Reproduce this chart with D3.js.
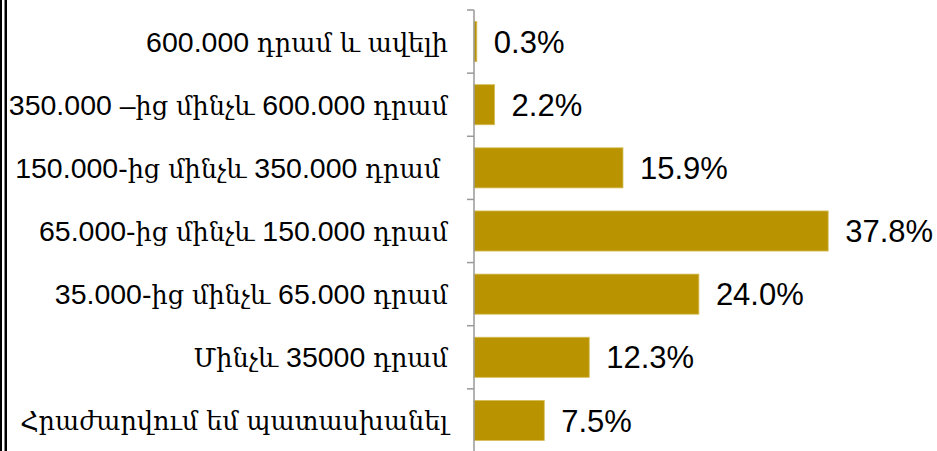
<!DOCTYPE html>
<html>
<head>
<meta charset="utf-8">
<script src="https://cdn.jsdelivr.net/npm/d3@7"></script>
<style>
  html, body { margin: 0; padding: 0; background: #fff; }
  svg { display: block; }
</style>
</head>
<body>
<svg id="chart" width="937" height="451"></svg>
<script>
// Income brackets (top to bottom) and share of respondents, %
const categories = [
  "600.000 դրամ և ավելի",
  "350.000 –ից մինչև 600.000 դրամ",
  "150.000-ից մինչև 350.000 դրամ ",
  "65.000-ից մինչև 150.000 դրամ",
  "35.000-ից մինչև 65.000 դրամ",
  "Մինչև 35000 դրամ",
  "Հրաժարվում եմ պատասխանել"
];
const values = [0.3, 2.2, 15.9, 37.8, 24.0, 12.3, 7.5];
const valueLabels = ["0.3%", "2.2%", "15.9%", "37.8%", "24.0%", "12.3%", "7.5%"];

const svg = d3.select("#chart");
const axisX = 474;

const y = d3.scaleBand()
  .domain(categories)
  .range([10, 452])
  .paddingInner(0.365)
  .paddingOuter(0.1825);

const x = d3.scaleLinear()
  .domain([0, 40])
  .range([axisX, axisX + 40 * 9.37]);

// double frame line on the left edge
svg.append("rect").attr("x", 0).attr("y", 0).attr("width", 2).attr("height", 451).attr("fill", "#000");
svg.append("rect").attr("x", 4.5).attr("y", 0).attr("width", 2.5).attr("height", 451).attr("fill", "#000");

// bars
svg.append("g")
  .selectAll("rect")
  .data(values)
  .join("rect")
  .attr("x", x(0))
  .attr("y", (d, i) => y(categories[i]))
  .attr("width", d => x(d) - x(0))
  .attr("height", y.bandwidth())
  .attr("fill", "#B99400")
  .attr("stroke", "#D6BE5A")
  .attr("stroke-width", 0.8);

// category axis with ticks at band boundaries
const step = y.step();
const tickYs = d3.range(categories.length + 1).map(i => y.range()[0] + i * step);
const axis = svg.append("g").attr("stroke", "#999").attr("stroke-width", 1.5);
axis.append("line")
  .attr("x1", axisX).attr("x2", axisX)
  .attr("y1", tickYs[0]).attr("y2", 451);
axis.selectAll("line.tick")
  .data(tickYs)
  .join("line")
  .attr("class", "tick")
  .attr("x1", axisX - 7).attr("x2", axisX)
  .attr("y1", d => d).attr("y2", d => d);

// category labels: Armenian runs sized separately from the numbers
const armenian = /([\u0530-\u058F\uFB13-\uFB17]+)/;
const labels = svg.append("g")
  .selectAll("text")
  .data(categories)
  .join("text")
  .attr("x", axisX - 26)
  .attr("y", d => y(d) + y.bandwidth() / 2)
  .attr("dy", "0.35em")
  .attr("text-anchor", "end")
  .style("white-space", "pre")
  .attr("font-family", "'Liberation Sans', Arial, sans-serif")
  .attr("font-size", 28.5)
  .attr("fill", "#000");
labels.each(function (d) {
  const t = d3.select(this);
  d.split(armenian).filter(s => s.length).forEach(part => {
    const ts = t.append("tspan").text(part);
    if (armenian.test(part)) {
      ts.attr("font-family", "'DejaVu Serif', serif").attr("font-size", 25.5);
    }
  });
});

// value labels
svg.append("g")
  .selectAll("text")
  .data(values)
  .join("text")
  .attr("x", d => x(d) + 17)
  .attr("y", (d, i) => y(categories[i]) + y.bandwidth() / 2)
  .attr("dy", "0.36em")
  .attr("font-family", "'Liberation Sans', Arial, sans-serif")
  .attr("font-size", 31)
  .attr("fill", "#000")
  .text((d, i) => valueLabels[i]);
</script>
</body>
</html>
